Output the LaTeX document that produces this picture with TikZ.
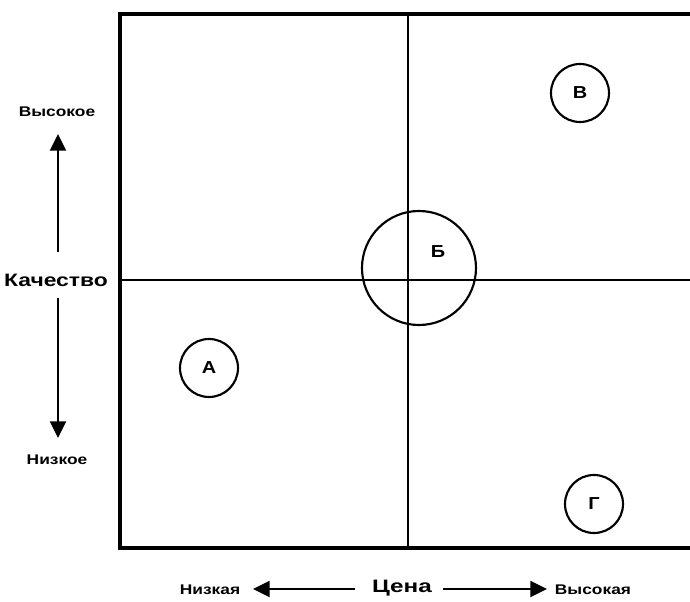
\documentclass[tikz,border=0pt]{standalone}
\usepackage{fontspec}
\setmainfont{Liberation Sans}
\usetikzlibrary{arrows.meta}
\begin{document}
\begin{tikzpicture}[x=0.75pt,y=-0.75pt,
  frame/.style={line width=2.4pt},
  mid/.style={line width=1.6pt},
  letter/.style={font=\bfseries\fontsize{13}{14}\selectfont},
  spot/.style={circle,draw,line width=1.6pt,minimum size=43.5pt,inner sep=0pt,letter},
  small/.style={font=\bfseries\fontsize{10.5}{11}\selectfont,inner sep=0pt},
  big/.style={font=\bfseries\fontsize{13.5}{14}\selectfont,inner sep=0pt},
  arr/.style={line width=1.7pt,-{Triangle[length=12.5pt,width=12pt]}}]
\useasboundingbox (0,0) rectangle (690,602);
% frame
\coordinate (tl) at (120,14);
\coordinate (tr) at (690,14);
\coordinate (bl) at (120,548);
\coordinate (br) at (690,548);
\coordinate (mt) at (408,14);
\coordinate (mb) at (408,548);
\coordinate (ml) at (120,280);
\coordinate (mr) at (690,280);
\draw[frame] (tr) -- (tl) -- (bl) -- (br);
\draw[mid] (mt) -- (mb);
\draw[mid] (ml) -- (mr);
% circles
\node[spot] (A) at (209,368) {\scalebox{1.15}[1]{А}};
\node[spot] (V) at (580,93) {\scalebox{1.15}[1]{В}};
\node[spot] (G) at (594,504) {\scalebox{1.15}[1]{Г}};
\node[spot,minimum size=85.5pt] (B) at (419,268) {};
\node[letter,inner sep=0pt] (Blab) at (438,252) {\scalebox{1.15}[1]{Б}};
% quality axis
\node[small] (hi) at (57,112) {\scalebox{1.24}[1]{Высокое}};
\node[big] (q) at (56,280) {\scalebox{1.27}[1]{Качество}};
\node[small] (lo) at (57,460) {\scalebox{1.24}[1]{Низкое}};
\coordinate (qup) at (58,252);
\coordinate (qupt) at (58,134);
\coordinate (qdn) at (58,298);
\coordinate (qdnt) at (58,438);
\draw[arr] (qup) -- (qupt);
\draw[arr] (qdn) -- (qdnt);
% price axis
\node[small] (plo) at (210,590) {\scalebox{1.24}[1]{Низкая}};
\node[big] (p) at (402,588) {\scalebox{1.35}[1]{Цена}};
\node[small] (phi) at (593,590) {\scalebox{1.24}[1]{Высокая}};
\coordinate (pl) at (355,589);
\coordinate (plt) at (253,589);
\coordinate (pr) at (443,589);
\coordinate (prt) at (547,589);
\draw[arr] (pl) -- (plt);
\draw[arr] (pr) -- (prt);
\end{tikzpicture}
\end{document}
